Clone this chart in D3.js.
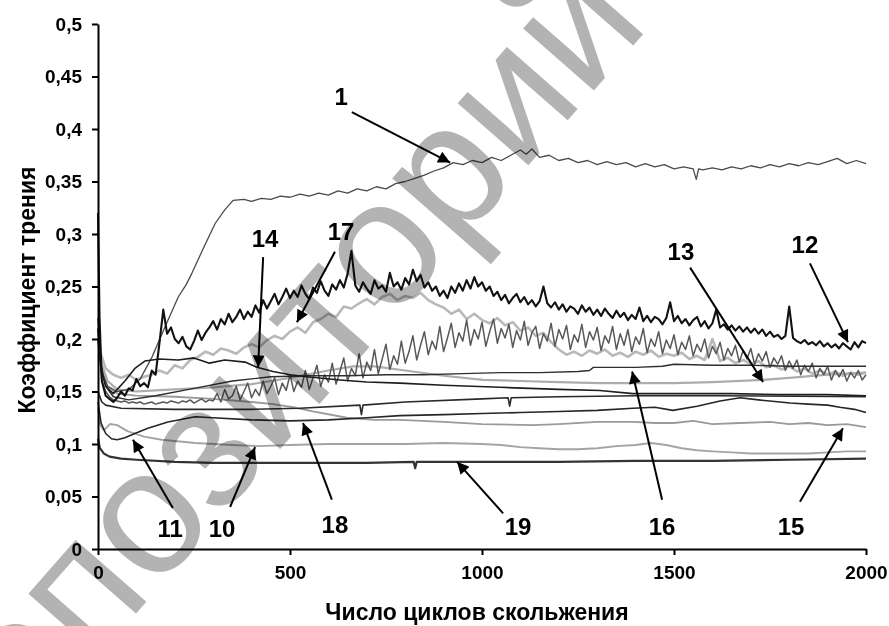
<!DOCTYPE html>
<meta charset="utf-8">
<body style="margin:0;background:#fff">

<script src="https://d3js.org/d3.v7.min.js"></script>

<script>

// friction coefficient vs sliding cycles
var xTicks = [0, 500, 1000, 1500, 2000];
var yTicks = [0, 0.05, 0.1, 0.15, 0.2, 0.25, 0.3, 0.35, 0.4, 0.45, 0.5];

var c1 = [[0,0.2],[10,0.168],[25,0.155],[50,0.15],[80,0.152],[110,0.162],[141,0.183],[175,0.212],[209,0.24],[230,0.252],
  [245,0.263],[275,0.287],[305,0.31],[330,0.323],[352,0.332],[380,0.333],[400,0.331],[425,0.334],[450,0.333],[475,0.336],
  [500,0.335],[526,0.338],[550,0.336],[575,0.339],[600,0.337],[625,0.341],[650,0.339],[675,0.343],[700,0.341],[725,0.345],
  [750,0.343],[775,0.348],[800,0.35],[825,0.353],[850,0.356],[875,0.36],[900,0.363],[925,0.368],[950,0.366],[975,0.37],
  [1000,0.368],[1025,0.373],[1050,0.37],[1075,0.375],[1100,0.38],[1115,0.376],[1130,0.381],[1150,0.373],[1175,0.375],[1200,0.37],
  [1225,0.372],[1250,0.368],[1275,0.37],[1300,0.366],[1325,0.369],[1350,0.366],[1375,0.368],[1400,0.364],[1425,0.367],[1450,0.364],
  [1475,0.366],[1500,0.362],[1525,0.364],[1550,0.362],[1558,0.352],[1564,0.362],[1575,0.361],[1600,0.363],[1625,0.361],[1650,0.364],
  [1675,0.362],[1700,0.365],[1725,0.363],[1750,0.366],[1775,0.364],[1800,0.367],[1825,0.365],[1850,0.368],[1875,0.366],[1900,0.369],
  [1925,0.372],[1950,0.367],[1975,0.37],[2000,0.367]];

var c16 = [[0,0.22],[8,0.175],[20,0.155],[40,0.145],[80,0.142],[150,0.146],[250,0.153],[350,0.16],[450,0.164],[550,0.165],
  [650,0.165],[750,0.166],[850,0.166],[950,0.167],[1050,0.168],[1150,0.168],[1250,0.169],[1280,0.17],[1290,0.173],[1400,0.173],
  [1470,0.174],[1500,0.176],[1600,0.175],[1700,0.175],[1800,0.174],[1900,0.174],[2000,0.174]];

var c14 = [[0,0.21],[8,0.17],[20,0.155],[40,0.148],[70,0.16],[96,0.172],[122,0.179],[160,0.181],[209,0.18],[250,0.182],
  [290,0.177],[330,0.18],[383,0.178],[414,0.173],[456,0.169],[500,0.166],[544,0.164],[630,0.161],[700,0.159],[786,0.158],
  [900,0.156],[1047,0.154],[1200,0.152],[1307,0.151],[1393,0.148],[1500,0.148],[1650,0.148],[1773,0.147],[1900,0.147],[2000,0.146]];

var c13 = [[0,0.21],[10,0.175],[25,0.16],[50,0.152],[100,0.15],[150,0.151],[200,0.152],[300,0.154],[400,0.157],[500,0.163],
  [600,0.17],[664,0.174],[720,0.174],[800,0.17],[900,0.165],[1003,0.161],[1100,0.16],[1200,0.159],[1307,0.158],[1400,0.158],
  [1497,0.158],[1600,0.159],[1732,0.161],[1800,0.163],[1900,0.166],[2000,0.168]];

var c18 = [[0,0.15],[10,0.14],[20,0.137],[60,0.134],[200,0.133],[400,0.133],[526,0.134],[682,0.137],[686,0.128],[690,0.137],
  [800,0.14],[1000,0.143],[1068,0.144],[1072,0.136],[1076,0.144],[1200,0.145],[1400,0.146],[1600,0.146],[2000,0.145]];

var c11 = [[0,0.14],[8,0.12],[20,0.11],[35,0.105],[50,0.104],[70,0.106],[96,0.11],[130,0.115],[182,0.121],[253,0.126],
  [300,0.125],[400,0.123],[500,0.122],[600,0.123],[700,0.125],[786,0.127],[900,0.128],[1000,0.129],[1100,0.13],[1200,0.131],
  [1300,0.132],[1393,0.134],[1450,0.135],[1497,0.132],[1560,0.136],[1620,0.141],[1672,0.144],[1720,0.142],[1802,0.139],[1850,0.138],
  [1900,0.137],[1932,0.135],[1970,0.133],[2000,0.13]];

var c15 = [[0,0.2],[10,0.17],[25,0.155],[50,0.148],[100,0.146],[200,0.145],[300,0.143],[400,0.14],[456,0.138],[508,0.135],
  [560,0.131],[648,0.125],[720,0.123],[786,0.123],[900,0.121],[1000,0.119],[1133,0.118],[1200,0.119],[1300,0.121],[1393,0.121],
  [1450,0.12],[1500,0.12],[1550,0.122],[1600,0.119],[1672,0.12],[1750,0.121],[1800,0.119],[1850,0.12],[1900,0.118],[1950,0.119],
  [2000,0.116]];

var c10 = [[0,0.135],[6,0.118],[15,0.113],[31,0.119],[50,0.118],[78,0.112],[120,0.107],[166,0.104],[253,0.101],[350,0.099],
  [417,0.098],[500,0.099],[600,0.1],[700,0.1],[800,0.1],[900,0.101],[1000,0.1],[1050,0.099],[1100,0.097],[1150,0.096],
  [1200,0.095],[1250,0.095],[1300,0.096],[1350,0.098],[1400,0.099],[1440,0.101],[1480,0.099],[1520,0.096],[1560,0.094],[1600,0.093],
  [1650,0.092],[1700,0.091],[1750,0.091],[1800,0.091],[1850,0.091],[1900,0.092],[1950,0.093],[2000,0.093]];

var c19 = [[0,0.105],[5,0.096],[15,0.091],[30,0.088],[60,0.086],[100,0.085],[200,0.083],[300,0.082],[500,0.082],[700,0.082],
  [822,0.083],[826,0.077],[830,0.083],[1000,0.083],[1200,0.083],[1400,0.084],[1600,0.084],[1800,0.085],[2000,0.086]];

// noisy records: early points, then one value every 10 (or 20) cycles
var c12Head = [[0,0.32],[4,0.22]];
var c12Vals = [0.160,0.146,0.143,0.140,0.144,0.150,0.146,0.153,0.151,0.162,
  0.155,0.158,0.154,0.170,0.166,0.196,0.228,0.205,0.211,0.200,
  0.196,0.202,0.193,0.190,0.198,0.208,0.199,0.206,0.211,0.217,
  0.209,0.219,0.214,0.224,0.216,0.221,0.228,0.219,0.226,0.221,
  0.232,0.225,0.237,0.229,0.236,0.243,0.233,0.240,0.248,0.239,
  0.246,0.240,0.251,0.243,0.238,0.249,0.244,0.255,0.246,0.241,
  0.252,0.247,0.256,0.249,0.262,0.284,0.251,0.245,0.254,0.248,
  0.243,0.256,0.248,0.251,0.245,0.263,0.250,0.254,0.247,0.258,
  0.252,0.266,0.255,0.261,0.249,0.254,0.246,0.250,0.241,0.246,
  0.239,0.250,0.244,0.253,0.246,0.256,0.248,0.259,0.250,0.254,
  0.246,0.250,0.241,0.245,0.237,0.242,0.234,0.239,0.243,0.235,
  0.240,0.233,0.237,0.231,0.236,0.250,0.234,0.230,0.235,0.228,
  0.233,0.226,0.231,0.229,0.224,0.232,0.226,0.230,0.223,0.228,
  0.222,0.229,0.224,0.220,0.227,0.221,0.225,0.218,0.223,0.219,
  0.230,0.217,0.222,0.216,0.221,0.219,0.214,0.220,0.235,0.217,
  0.222,0.215,0.219,0.213,0.218,0.221,0.212,0.217,0.210,0.215,
  0.228,0.211,0.214,0.209,0.213,0.208,0.212,0.207,0.211,0.206,
  0.210,0.205,0.209,0.203,0.207,0.202,0.204,0.200,0.203,0.231,
  0.201,0.198,0.196,0.199,0.195,0.197,0.194,0.198,0.193,0.196,
  0.192,0.195,0.191,0.196,0.193,0.190,0.197,0.192,0.198,0.196];

var greyHead = [[0,0.2]];
var greyVals = [0.160,0.150,0.145,0.142,0.141,0.140,0.141,0.139,0.140,0.139,
  0.140,0.138,0.139,0.140,0.138,0.139,0.140,0.139,0.141,0.140,
  0.139,0.141,0.140,0.142,0.139,0.141,0.143,0.140,0.142,0.141,
  0.148,0.140,0.152,0.143,0.146,0.155,0.142,0.150,0.158,0.144,
  0.152,0.146,0.160,0.148,0.155,0.163,0.147,0.158,0.151,0.166,
  0.150,0.160,0.154,0.170,0.152,0.163,0.175,0.155,0.166,0.159,
  0.177,0.157,0.169,0.182,0.160,0.172,0.165,0.186,0.163,0.178,
  0.170,0.190,0.167,0.181,0.195,0.171,0.184,0.176,0.198,0.177,
  0.188,0.203,0.180,0.194,0.207,0.185,0.198,0.190,0.212,0.188,
  0.201,0.215,0.192,0.206,0.198,0.218,0.194,0.209,0.200,0.216,
  0.193,0.207,0.219,0.196,0.210,0.201,0.214,0.192,0.208,0.199,
  0.217,0.194,0.206,0.212,0.191,0.205,0.198,0.215,0.193,0.209,
  0.200,0.213,0.190,0.204,0.197,0.214,0.192,0.207,0.199,0.211,
  0.189,0.203,0.196,0.212,0.190,0.205,0.194,0.209,0.188,0.202,
  0.195,0.210,0.187,0.200,0.193,0.207,0.186,0.199,0.191,0.204,
  0.185,0.197,0.190,0.203,0.184,0.195,0.188,0.200,0.182,0.193,
  0.186,0.197,0.180,0.191,0.184,0.194,0.178,0.189,0.181,0.191,
  0.176,0.186,0.179,0.188,0.173,0.182,0.176,0.184,0.170,0.179,
  0.172,0.180,0.166,0.175,0.169,0.177,0.163,0.172,0.166,0.174,
  0.161,0.170,0.164,0.171,0.160,0.168,0.163,0.170,0.161,0.166];

var c17Head = [[0,0.21],[8,0.185]];
var c17Vals = [0.172,0.166,0.163,0.166,0.161,0.164,0.166,0.170,0.167,0.175,
  0.172,0.180,0.183,0.188,0.185,0.191,0.189,0.186,0.192,0.195,
  0.192,0.199,0.203,0.200,0.207,0.211,0.206,0.216,0.219,0.224,
  0.221,0.231,0.229,0.234,0.238,0.233,0.240,0.243,0.237,0.241,
  0.239,0.244,0.237,0.233,0.230,0.224,0.228,0.219,0.224,0.218,
  0.215,0.220,0.213,0.216,0.208,0.211,0.203,0.206,0.197,0.190,
  0.185,0.188,0.184,0.189,0.186,0.190,0.184,0.187,0.183,0.188,
  0.185,0.189,0.183,0.186,0.184,0.187,0.181,0.184,0.180,0.200,
  0.179,0.182,0.177,0.180,0.176,0.179,0.173,0.175,0.171,0.174,
  0.169,0.172,0.167,0.170,0.166,0.169,0.165,0.168,0.166,0.168];

var labelNames = ['1','14','17','13','12','11','10','18','19','16','15'];
var labelPos = [[633,0.423],[435,0.288],[633,0.294],[1518,0.275],[1841,0.282],[188,0.011],[323,0.011],[617,0.015],[1094,0.013],[1469,0.013],[1805,0.013]];
var arrowFrom = [[661,0.416],[430,0.278],[617,0.283],[1542,0.268],[1854,0.272],[195,0.039],[344,0.04],[609,0.047],[1055,0.034],[1469,0.047],[1828,0.045]];
var arrowTo = [[917,0.368],[417,0.173],[518,0.216],[1732,0.159],[1953,0.197],[91,0.104],[409,0.097],[534,0.12],[935,0.083],[1391,0.169],[1940,0.115]];

var step10 = d3.range(10, 2001, 10);
var step20 = d3.range(20, 2001, 20);
var noisy = (head, steps, vals) => head.concat(steps.map((c, i) => [c, vals[i]]));

var W = 889, H = 626;
var FONT = "'Liberation Sans', Arial, sans-serif";

var svg = d3.select('body').append('svg')
    .attr('width', W)
    .attr('height', H);

var x = d3.scaleLinear().domain([0, 2000]).range([98, 866]);
var y = d3.scaleLinear().domain([0, 0.5]).range([549, 24]);

var ru = d3.formatLocale({decimal: ',', thousands: ' ', grouping: [3], currency: ['', '']});

var line = d3.line().x(d => x(d[0])).y(d => y(d[1]));

var series = [
  {d: noisy(c17Head, step20, c17Vals), c: '#b9b9b9', w: 2.6},
  {d: c13, c: '#acacac', w: 2.2},
  {d: c15, c: '#9a9a9a', w: 1.8},
  {d: c10, c: '#a4a4a4', w: 1.9},
  {d: noisy(greyHead, step10, greyVals), c: '#585858', w: 1.5},
  {d: c1, c: '#4a4a4a', w: 1.3},
  {d: c16, c: '#2e2e2e', w: 1.4},
  {d: c14, c: '#1e1e1e', w: 1.6},
  {d: c18, c: '#2a2a2a', w: 1.6},
  {d: c11, c: '#262626', w: 1.6},
  {d: c19, c: '#333', w: 2.2},
  {d: noisy(c12Head, step10, c12Vals), c: '#111', w: 2.1}
];

svg.append('g').selectAll('path')
  .data(series).enter()
  .append('path')
    .attr('d', s => line(s.d))
    .attr('fill', 'none')
    .attr('stroke', s => s.c)
    .attr('stroke-width', s => s.w)
    .attr('stroke-linejoin', 'round');

// axes
var styleAxis = (g) => {
  g.select('.domain').attr('stroke', '#000').attr('stroke-width', 2);
  g.selectAll('.tick line').attr('stroke', '#000').attr('stroke-width', 2);
  g.selectAll('.tick text')
    .attr('fill', '#000')
    .style('font-family', FONT)
    .style('font-size', '19px')
    .style('font-weight', 'bold');
};

svg.append('g')
    .attr('transform', 'translate(98,0)')
    .call(d3.axisLeft(y).tickValues(yTicks).tickFormat(ru.format('~g')).tickSize(6).tickSizeOuter(0).tickPadding(10))
    .call(styleAxis);

svg.append('g')
    .attr('transform', 'translate(0,549)')
    .call(d3.axisBottom(x).tickValues(xTicks).tickFormat(d3.format('d')).tickSize(6).tickSizeOuter(0).tickPadding(11))
    .call(styleAxis);

svg.append('text')
    .text('Число циклов скольжения')
    .attr('x', 477).attr('y', 620)
    .attr('text-anchor', 'middle')
    .style('font-family', FONT).style('font-size', '23px').style('font-weight', 'bold');

svg.append('text')
    .text('Коэффициент трения')
    .attr('transform', 'translate(35,290) rotate(-90)')
    .attr('text-anchor', 'middle')
    .style('font-family', FONT).style('font-size', '23px').style('font-weight', 'bold');

// curve numbers with arrows
svg.append('defs').append('marker')
    .attr('id', 'ah')
    .attr('viewBox', '0 0 10 10')
    .attr('refX', 10).attr('refY', 5)
    .attr('markerUnits', 'userSpaceOnUse')
    .attr('markerWidth', 15).attr('markerHeight', 12)
    .attr('orient', 'auto')
  .append('path')
    .attr('d', 'M0,0L10,5L0,10Z')
    .attr('fill', '#000');

var ann = svg.append('g');
labelNames.forEach((t, i) => {
  ann.append('line')
    .attr('x1', x(arrowFrom[i][0])).attr('y1', y(arrowFrom[i][1]))
    .attr('x2', x(arrowTo[i][0])).attr('y2', y(arrowTo[i][1]))
    .attr('stroke', '#000').attr('stroke-width', 2)
    .attr('marker-end', 'url(#ah)');
  ann.append('text')
    .text(t)
    .attr('x', x(labelPos[i][0])).attr('y', y(labelPos[i][1]))
    .attr('text-anchor', 'middle')
    .style('font-family', FONT).style('font-size', '24px').style('font-weight', 'bold');
});

// watermark
svg.append('text')
    .text('Репозиторий')
    .attr('transform', 'translate(302,424) rotate(-48.8)')
    .attr('text-anchor', 'middle')
    .attr('fill', '#b3b3b3')
    .style('mix-blend-mode', 'multiply')
    .style('font-family', FONT).style('font-size', '178px').style('font-weight', 'normal');

</script>
</body>
</html>
